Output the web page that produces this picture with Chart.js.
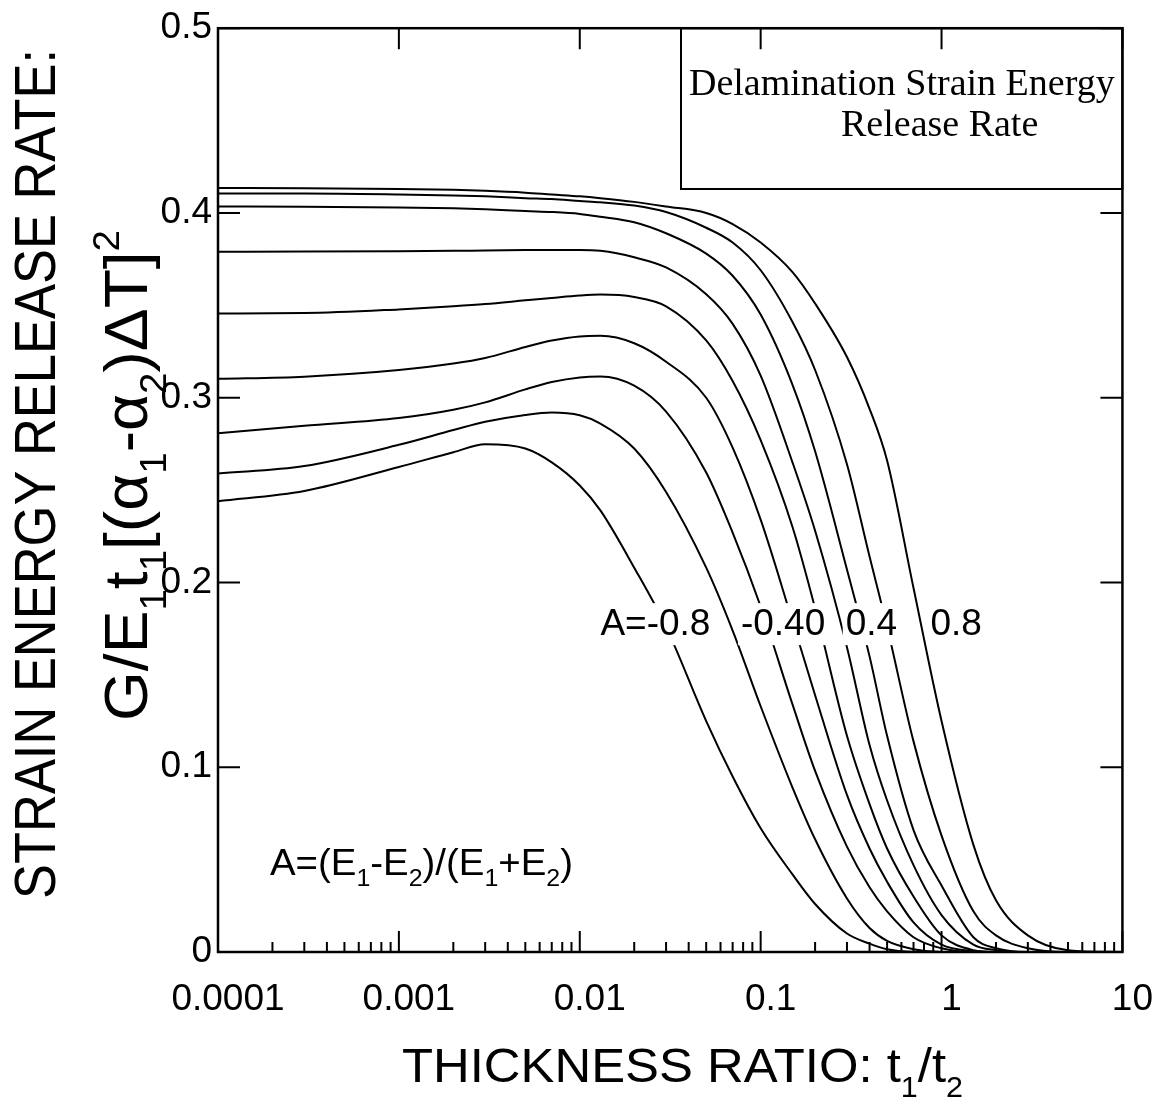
<!DOCTYPE html>
<html>
<head>
<meta charset="utf-8">
<script src="https://cdn.jsdelivr.net/npm/chart.js@4.4.1/dist/chart.umd.min.js"></script>
<style>
  html, body { margin: 0; padding: 0; background: #fff; }
  canvas { display: block; }
</style>
</head>
<body>
<canvas id="chart" width="1169" height="1109"></canvas>
<script>
// thickness ratio t1/t2 sampled along the log axis
const thicknessRatio = [0.0001, 0.0003, 0.001, 0.002, 0.003, 0.005, 0.007, 0.01, 0.013, 0.02, 0.03, 0.05,
  0.07, 0.1, 0.15, 0.2, 0.3, 0.4, 0.5, 0.7, 1, 1.5, 2, 3, 5, 10];

// normalized G for each A = (E1-E2)/(E1+E2)
const aValues = [-0.8, -0.6, -0.4, -0.2, 0, 0.2, 0.4, 0.6, 0.8];
const gAm08 = [0.244, 0.2495, 0.2625, 0.2705, 0.2748, 0.2725, 0.265, 0.2525, 0.239, 0.208, 0.176, 0.125,
  0.095, 0.067, 0.042, 0.026, 0.010, 0.0045, 0.0015, 0, 0, 0, 0, 0, 0, 0];
const gAm06 = [0.259, 0.263, 0.2745, 0.2825, 0.287, 0.2907, 0.292, 0.2905, 0.286, 0.2725, 0.249, 0.208,
  0.174, 0.133, 0.089, 0.061, 0.029, 0.013, 0.006, 0.0015, 0, 0, 0, 0, 0, 0];
const gAm04 = [0.2807, 0.2848, 0.289, 0.2935, 0.2975, 0.3045, 0.3085, 0.311, 0.3115, 0.3065, 0.2925, 0.2595,
  0.227, 0.187, 0.134, 0.098, 0.057, 0.035, 0.022, 0.008, 0.002, 0, 0, 0, 0, 0];
const gAm02 = [0.3102, 0.3114, 0.315, 0.3185, 0.3215, 0.3275, 0.331, 0.3332, 0.3335, 0.3295, 0.3195, 0.300,
  0.273, 0.234, 0.179, 0.139, 0.085, 0.056, 0.038, 0.016, 0.004, 0.0005, 0, 0, 0, 0];
const gA00 = [0.3456, 0.3458, 0.3478, 0.3495, 0.3507, 0.3527, 0.354, 0.3553, 0.3558, 0.3545, 0.3495, 0.331,
  0.309, 0.277, 0.230, 0.186, 0.117, 0.080, 0.056, 0.030, 0.009, 0.001, 0, 0, 0, 0];
const gAp02 = [0.379, 0.3791, 0.3793, 0.3795, 0.3797, 0.3799, 0.38, 0.38, 0.3795, 0.376, 0.3705, 0.356,
  0.340, 0.312, 0.265, 0.228, 0.165, 0.112, 0.082, 0.047, 0.020, 0.004, 0.001, 0, 0, 0];
const gAp04 = [0.4035, 0.4034, 0.403, 0.4025, 0.402, 0.401, 0.4005, 0.3995, 0.398, 0.395, 0.389, 0.378,
  0.366, 0.345, 0.307, 0.271, 0.207, 0.160, 0.117, 0.066, 0.036, 0.008, 0.002, 0, 0, 0];
const gAp06 = [0.4105, 0.4105, 0.41, 0.4095, 0.409, 0.408, 0.4075, 0.4065, 0.4058, 0.404, 0.4005, 0.392,
  0.384, 0.369, 0.341, 0.315, 0.264, 0.214, 0.176, 0.114, 0.063, 0.022, 0.009, 0.002, 0, 0];
const gAp08 = [0.4135, 0.4134, 0.413, 0.4125, 0.412, 0.411, 0.410, 0.409, 0.408, 0.406, 0.4035, 0.400,
  0.394, 0.384, 0.368, 0.351, 0.322, 0.294, 0.266, 0.197, 0.125, 0.058, 0.028, 0.009, 0.001, 0];
const seriesG = [gAm08, gAm06, gAm04, gAm02, gA00, gAp02, gAp04, gAp06, gAp08];

// axes
const xDecades = [0.0001, 0.001, 0.01, 0.1, 1, 10];
const xTickLabels = ['0.0001', '0.001', '0.01', '0.1', '1', '10'];
const yTickLabels = ['0', '0.1', '0.2', '0.3', '0.4', '0.5'];

// text on the plot
const curveLabels = ['A=-0.8', '-0.40', '0.4', '0.8'];
const curveLabelAt = [[0.0130, 0.1715], [0.0778, 0.1715], [0.2953, 0.1715], [0.8686, 0.1715]];
const boxTitle = ['Delamination Strain Energy', 'Release Rate'];

const SANS = "'Liberation Sans', Arial, Helvetica, sans-serif";
const SERIF = "'Liberation Serif', 'Times New Roman', serif";

const xTickValues = [];
xDecades.forEach((d, i) => {
  xTickValues.push(d);
  if (i < xDecades.length - 1) for (let k = 2; k <= 9; k++) xTickValues.push(d * k);
});

// draws text with sub/superscripts; parts = [[text, 0|-1|1]], stretched to a given length
function drawRich(ctx, parts, size, subRatio, targetLen) {
  const pieces = parts.map(([t, kind]) => ({ t, kind, s: kind ? size * subRatio : size }));
  let total = 0;
  pieces.forEach(p => { ctx.font = p.s + 'px ' + SANS; p.w = ctx.measureText(p.t).width; total += p.w; });
  const sx = targetLen ? targetLen / total : 1;
  ctx.scale(sx, 1);
  let cx = 0;
  pieces.forEach(p => {
    ctx.font = p.s + 'px ' + SANS;
    const dy = p.kind === -1 ? size * 0.3 : (p.kind === 1 ? -size * 0.45 : 0);
    ctx.fillText(p.t, cx, dy);
    cx += p.w;
  });
}

const decorations = {
  id: 'decorations',
  afterDatasetsDraw(chart) {
    const { ctx, chartArea: a, scales: { x, y } } = chart;
    ctx.save();
    ctx.fillStyle = '#000';
    ctx.textBaseline = 'alphabetic';
    ctx.textAlign = 'left';

    // curve labels with white backing
    ctx.font = '37px ' + SANS;
    curveLabels.forEach((txt, i) => {
      const px = x.getPixelForValue(curveLabelAt[i][0]);
      const py = y.getPixelForValue(curveLabelAt[i][1]);
      const w = ctx.measureText(txt).width;
      ctx.fillStyle = '#fff';
      ctx.fillRect(px - 3, py - 32, w + 6, 42);
      ctx.fillStyle = '#000';
      ctx.fillText(txt, px, py);
    });

    // boxed title
    const bx = 681;
    ctx.fillStyle = '#fff';
    ctx.fillRect(bx, a.top, a.right - bx, 189 - a.top);
    ctx.strokeStyle = '#000';
    ctx.lineWidth = 2;
    ctx.strokeRect(bx, a.top, a.right - bx, 189 - a.top);
    ctx.fillStyle = '#000';
    ctx.font = '38px ' + SERIF;
    ctx.fillText(boxTitle[0], 689, 95);
    ctx.fillText(boxTitle[1], 841, 136);

    // A definition
    ctx.save();
    ctx.translate(270, 875);
    drawRich(ctx, [['A=(E', 0], ['1', -1], ['-E', 0], ['2', -1], [')/(E', 0], ['1', -1], ['+E', 0], ['2', -1], [')', 0]],
      37, 0.65, 303);
    ctx.restore();

    // frame
    ctx.lineWidth = 2.5;
    ctx.strokeRect(a.left, a.top, a.right - a.left, a.bottom - a.top);

    // inward tick marks
    ctx.lineWidth = 2;
    ctx.beginPath();
    x.ticks.forEach(t => {
      const px = x.getPixelForValue(t.value);
      const major = xDecades.includes(t.value);
      ctx.moveTo(px, a.bottom);
      ctx.lineTo(px, a.bottom - (major ? 21 : 10));
      if (major) { ctx.moveTo(px, a.top); ctx.lineTo(px, a.top + 21); }
    });
    y.ticks.forEach(t => {
      const py = y.getPixelForValue(t.value);
      ctx.moveTo(a.left, py); ctx.lineTo(a.left + 22, py);
      ctx.moveTo(a.right, py); ctx.lineTo(a.right - 22, py);
    });
    ctx.stroke();
    ctx.restore();
  },
  afterDraw(chart) {
    const ctx = chart.ctx;
    ctx.save();
    ctx.fillStyle = '#000';
    ctx.textBaseline = 'alphabetic';
    ctx.textAlign = 'left';

    // x axis title
    ctx.save();
    ctx.translate(402, 1082);
    drawRich(ctx, [['THICKNESS RATIO: t', 0], ['1', -1], ['/t', 0], ['2', -1]], 49, 0.6, 561);
    ctx.restore();

    // y axis title, first line
    ctx.save();
    ctx.translate(55, 899);
    ctx.rotate(-Math.PI / 2);
    drawRich(ctx, [['STRAIN ENERGY RELEASE RATE:', 0]], 58, 1, 850);
    ctx.restore();

    // y axis title, second line
    ctx.save();
    ctx.translate(147, 721);
    ctx.rotate(-Math.PI / 2);
    drawRich(ctx, [['G/E', 0], ['1', -1], ['t', 0], ['1', -1], ['[(\u03b1', 0], ['1', -1], ['-\u03b1', 0], ['2', -1],
      [')\u0394T]', 0], ['2', 1]], 62, 0.6, 491);
    ctx.restore();

    ctx.restore();
  }
};

new Chart(document.getElementById('chart'), {
  type: 'line',
  data: {
    datasets: seriesG.map((vals, i) => ({
      label: 'A=' + aValues[i],
      data: thicknessRatio.map((t, j) => ({ x: t, y: vals[j] })),
      borderColor: '#000',
      borderWidth: 2,
      pointRadius: 0,
      fill: false,
      cubicInterpolationMode: 'monotone'
    }))
  },
  options: {
    responsive: false,
    animation: false,
    events: [],
    layout: { padding: { left: 0, right: 43, top: 28, bottom: 0 } },
    plugins: { legend: { display: false }, tooltip: { enabled: false } },
    scales: {
      x: {
        type: 'logarithmic',
        min: 0.0001,
        max: 10,
        grid: { display: false, drawTicks: false },
        border: { display: false },
        afterBuildTicks: s => { s.ticks = xTickValues.map(v => ({ value: v })); },
        afterFit: s => { s.height = 157; },
        ticks: {
          autoSkip: false,
          maxRotation: 0,
          padding: 26,
          labelOffset: 10,
          color: '#000',
          font: { family: SANS, size: 37 },
          callback: v => {
            const i = xDecades.indexOf(v);
            return i >= 0 ? xTickLabels[i] : '';
          }
        }
      },
      y: {
        min: 0,
        max: 0.5,
        grid: { display: false, drawTicks: false },
        border: { display: false },
        afterFit: s => { s.width = 218; },
        ticks: {
          stepSize: 0.1,
          padding: 6,
          color: '#000',
          font: { family: SANS, size: 37 },
          callback: (v, i) => yTickLabels[i]
        }
      }
    }
  },
  plugins: [decorations]
});
</script>
</body>
</html>
